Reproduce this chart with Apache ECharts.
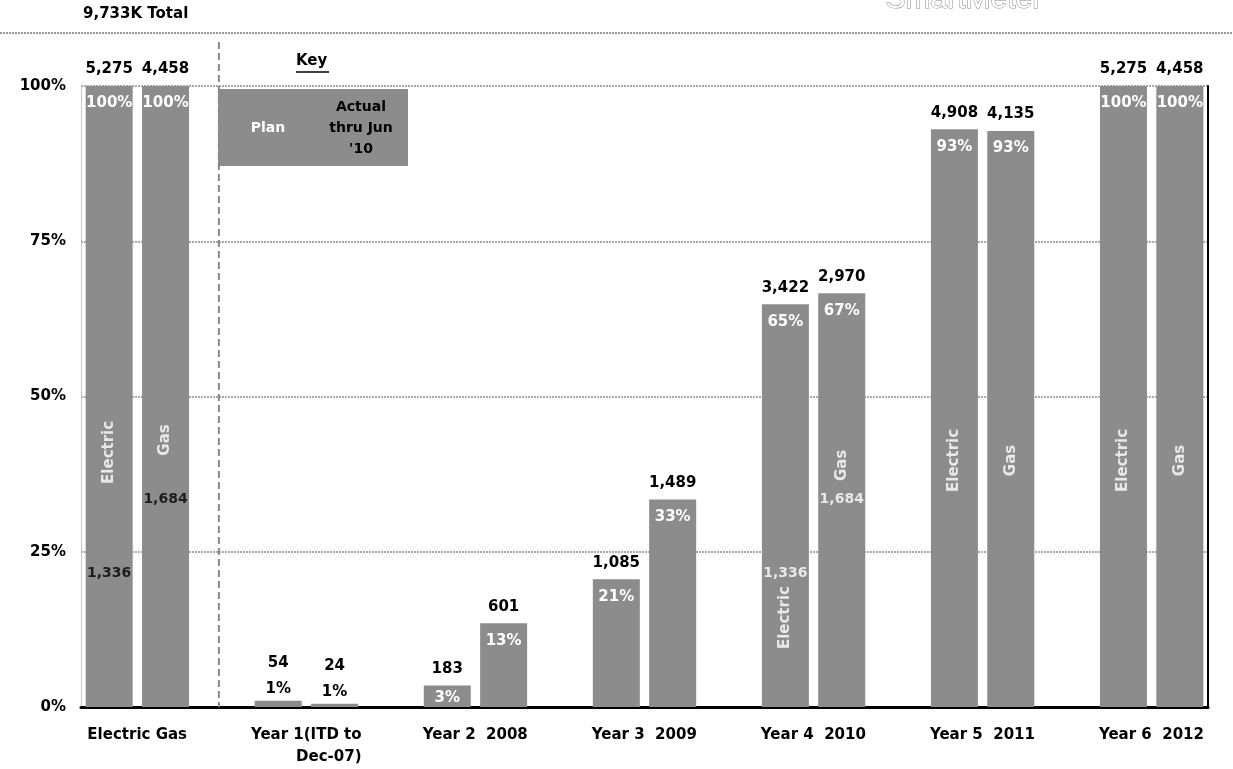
<!DOCTYPE html>
<html>
<head>
<meta charset="utf-8">
<script src="https://cdn.jsdelivr.net/npm/echarts@6/dist/echarts.min.js"></script>
<style>
  html, body { margin: 0; padding: 0; background: #fff; }
  #chart { width: 1233px; height: 769px; }
</style>
</head>
<body>
<div id="chart"></div>
<script>
// Meter deployment by year, in thousands of meters
const groups = ['Electric Gas', 'Year 1(ITD to\nDec-07)', 'Year 2  2008', 'Year 3  2009', 'Year 4  2010', 'Year 5  2011', 'Year 6  2012'];
const electricUnits = [5275, 54, 183, 1085, 3422, 4908, 5275];
const gasUnits = [4458, 24, 601, 1489, 2970, 4135, 4458];
const electricPlan = 5275;
const gasPlan = 4458;
const actualElectric = 1336;   // actual thru Jun '10
const actualGas = 1684;
const yTickValues = [0, 25, 50, 75, 100];

const FONT = 'DejaVu Sans, Verdana, sans-serif';
const LOGO_FONT = 'Liberation Sans, Arial, sans-serif';
const BAR = '#8c8c8c';
const fmt = n => n.toLocaleString('en-US');

// Each group occupies an Electric slot, a Gas slot and a spacer slot
const slots = [];
groups.forEach((g, i) => {
  slots.push({ group: i, kind: 'E' });
  slots.push({ group: i, kind: 'G' });
  if (i < groups.length - 1) slots.push({ group: i, kind: 'gap' });
});
const slotIndex = (group, kind) => slots.findIndex(s => s.group === group && s.kind === kind);

function shareOf(kind, group) {
  return kind === 'E' ? electricUnits[group] / electricPlan * 100 : gasUnits[group] / gasPlan * 100;
}
function unitsOf(kind, group) {
  return kind === 'E' ? electricUnits[group] : gasUnits[group];
}

function barData(kind) {
  return slots.map(s => {
    if (s.kind !== kind) return '-';
    const v = shareOf(kind, s.group);
    const pct = Math.round(v);
    const item = { value: v, pct: pct };
    if (v < 2) {
      item.label = { position: 'top', color: '#000', distance: 4 };
    } else if (v < 5) {
      item.label = { distance: 5 };
    }
    return item;
  });
}

function unitsData() {
  return slots.map(s => {
    if (s.kind === 'gap') return '-';
    const v = shareOf(s.kind, s.group);
    const item = { value: v, units: unitsOf(s.kind, s.group) };
    if (v < 2) item.label = { distance: 30 };
    return item;
  });
}

// In-bar annotations: series names and actual-to-date counts
const notes = [
  { group: 0, kind: 'E', text: 'Electric', at: 41, rotate: 90, color: '#fff' },
  { group: 0, kind: 'G', text: 'Gas', at: 43, rotate: 90, color: '#fff' },
  { group: 0, kind: 'E', text: fmt(actualElectric), at: 21.5, rotate: 0, color: '#000' },
  { group: 0, kind: 'G', text: fmt(actualGas), at: 33.5, rotate: 0, color: '#000' },
  { group: 4, kind: 'E', text: 'Electric', at: 14.4, rotate: 90, color: '#fff' },
  { group: 4, kind: 'G', text: 'Gas', at: 38.9, rotate: 90, color: '#fff' },
  { group: 4, kind: 'E', text: fmt(actualElectric), at: 21.5, rotate: 0, color: '#fff' },
  { group: 4, kind: 'G', text: fmt(actualGas), at: 33.5, rotate: 0, color: '#fff' },
  { group: 5, kind: 'E', text: 'Electric', at: 39.7, rotate: 90, color: '#fff' },
  { group: 5, kind: 'G', text: 'Gas', at: 39.7, rotate: 90, color: '#fff' },
  { group: 6, kind: 'E', text: 'Electric', at: 39.7, rotate: 90, color: '#fff' },
  { group: 6, kind: 'G', text: 'Gas', at: 39.7, rotate: 90, color: '#fff' }
];

const chart = echarts.init(document.getElementById('chart'));

const labelFont = { fontFamily: FONT, fontSize: 15, fontWeight: 'bold' };

const option = {
  backgroundColor: '#fff',
  animation: false,
  textStyle: { fontFamily: FONT },
  grid: { left: 81, right: 25, top: 86, bottom: 62, containLabel: false },
  xAxis: {
    type: 'category',
    data: slots.map((s, i) => 'slot' + i),
    boundaryGap: true,
    axisLine: { show: true, lineStyle: { color: '#000', width: 3 } },
    axisTick: { show: false },
    splitLine: { show: false },
    axisLabel: {
      interval: 0,
      margin: 17,
      color: '#000',
      fontFamily: FONT,
      fontSize: 15,
      fontWeight: 'bold',
      lineHeight: 22,
      padding: [0, 0, 0, 56],
      formatter: (v, i) => {
        const s = slots[i];
        if (!s || s.kind !== 'E') return '';
        const lines = groups[s.group].split('\n');
        if (lines.length === 1) return '{a|' + lines[0] + '}';
        return '{a|' + lines[0] + '}\n{b|' + lines[1] + '}';
      },
      rich: {
        a: { fontFamily: FONT, fontSize: 15, fontWeight: 'bold', color: '#000', lineHeight: 22 },
        b: { fontFamily: FONT, fontSize: 15, fontWeight: 'bold', color: '#000', lineHeight: 22, align: 'right' }
      }
    }
  },
  yAxis: [
    {
      type: 'value',
      min: 0,
      max: 100,
      interval: 25,
      axisLine: { show: true, lineStyle: { color: '#bbb', width: 1, type: 'dotted' } },
      axisTick: { show: false },
      axisLabel: Object.assign({
        margin: 15,
        color: '#000',
        formatter: v => (yTickValues.indexOf(v) >= 0 ? v + '%' : '')
      }, labelFont),
      splitLine: { show: true, lineStyle: { color: '#aaa', width: 2, type: [2, 1] } }
    },
    {
      type: 'value',
      min: 0,
      max: 100,
      interval: 25,
      position: 'right',
      axisLine: { show: true, lineStyle: { color: '#000', width: 2 } },
      axisTick: { show: false },
      axisLabel: { show: false },
      splitLine: { show: false }
    }
  ],
  series: [
    {
      name: 'Electric',
      type: 'bar',
      barWidth: 47,
      barGap: '-100%',
      itemStyle: { color: BAR },
      data: barData('E'),
      label: Object.assign({
        show: true,
        position: 'insideTop',
        distance: 10,
        color: '#fff',
        formatter: p => p.data.pct + '%'
      }, labelFont),
      z: 2
    },
    {
      name: 'Gas',
      type: 'bar',
      barWidth: 47,
      barGap: '-100%',
      itemStyle: { color: BAR },
      data: barData('G'),
      label: Object.assign({
        show: true,
        position: 'insideTop',
        distance: 10,
        color: '#fff',
        formatter: p => p.data.pct + '%'
      }, labelFont),
      z: 2
    },
    {
      name: 'Units',
      type: 'bar',
      barWidth: 47,
      barGap: '-100%',
      itemStyle: { color: 'rgba(0,0,0,0)' },
      data: unitsData(),
      label: Object.assign({
        show: true,
        position: 'top',
        distance: 9,
        color: '#000',
        formatter: p => fmt(p.data.units)
      }, labelFont),
      silent: true,
      z: 3
    },
    {
      name: 'Notes',
      type: 'scatter',
      symbolSize: 0,
      silent: true,
      z: 5,
      data: notes.map(n => ({
        value: [slotIndex(n.group, n.kind), n.at],
        label: {
          show: true,
          position: 'inside',
          rotate: n.rotate,
          color: n.color,
          fontFamily: FONT,
          fontSize: n.rotate ? 15 : 14,
          fontWeight: 'bold',
          formatter: n.text
        }
      }))
    }
  ]
};

chart.setOption(option);

// Page furniture: header, divider, key box and the separator after the totals group
const sepX = (chart.convertToPixel({ xAxisIndex: 0 }, 1) + chart.convertToPixel({ xAxisIndex: 0 }, 3)) / 2 - 3;
const zeroY = chart.convertToPixel({ yAxisIndex: 0 }, 0);

chart.setOption({
  graphic: [
    {
      type: 'text', left: 83, top: 7,
      style: { text: fmt(electricPlan + gasPlan) + 'K Total', font: 'bold 15px ' + FONT, fill: '#000' }
    },
    {
      type: 'text', left: 885, top: -16,
      style: { text: 'SmartMeter', font: '30px ' + LOGO_FONT, fill: '#fff', stroke: '#888', lineWidth: 1 }
    },
    {
      type: 'line',
      shape: { x1: 0, y1: 33, x2: 1233, y2: 33 },
      style: { stroke: '#999', lineWidth: 2, lineDash: [2, 1] }
    },
    {
      type: 'line',
      shape: { x1: sepX, y1: 42, x2: sepX, y2: zeroY },
      style: { stroke: '#888', lineWidth: 2, lineDash: [7, 4] },
      z: 10
    },
    {
      type: 'text', left: 296, top: 54,
      style: { text: 'Key', font: 'bold 15px ' + FONT, fill: '#000' }
    },
    {
      type: 'line',
      shape: { x1: 296, y1: 72, x2: 329, y2: 72 },
      style: { stroke: '#000', lineWidth: 1.5 }
    },
    {
      type: 'rect',
      shape: { x: 218, y: 89, width: 190, height: 77 },
      style: { fill: BAR }
    },
    {
      type: 'text', x: 268, y: 128,
      style: { text: 'Plan', font: 'bold 14px ' + FONT, fill: '#fff', align: 'center', verticalAlign: 'middle' }
    },
    {
      type: 'text', x: 361, y: 128,
      style: {
        text: 'Actual\nthru Jun\n\'10', font: 'bold 14px ' + FONT, fill: '#000',
        align: 'center', verticalAlign: 'middle', lineHeight: 21
      }
    }
  ]
});
</script>
</body>
</html>
